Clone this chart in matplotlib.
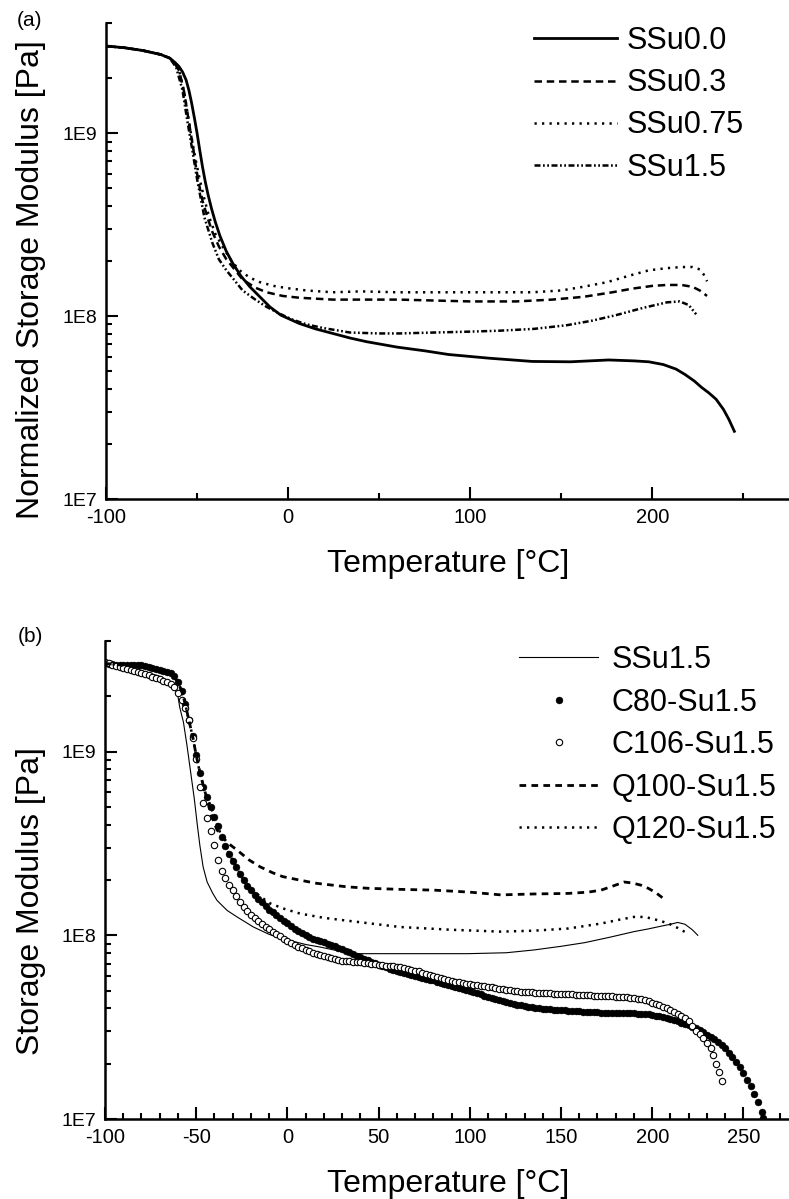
import matplotlib
matplotlib.use('Agg')
import matplotlib.pyplot as plt
from matplotlib.ticker import FixedLocator, FixedFormatter, LogLocator, NullFormatter
from matplotlib import font_manager
import numpy as np

plt.rcParams['font.family'] = ['Liberation Sans', 'DejaVu Sans']

# ---------------- data : panel (a) (temperature in degC, log10 of modulus in Pa)
a_labels = ['SSu0.0', 'SSu0.3', 'SSu0.75', 'SSu1.5']

ssu00_T = [-100, -90, -80, -70, -65, -62, -60, -58, -56, -54.5, -53, -51.5, -50, -48.5, -47, -45.5,
           -44, -42, -40, -37.5, -34, -30.5, -26, -21, -15, -10, -4, 6, 15, 24.5, 34, 43, 60, 75, 88,
           110, 134, 155, 176, 190, 198, 206, 213, 218, 223, 227, 231, 235, 239, 242, 245]
ssu00_logE = [9.476, 9.467, 9.452, 9.43, 9.41, 9.385, 9.365, 9.335, 9.29, 9.235, 9.165, 9.085, 9.00,
              8.905, 8.815, 8.735, 8.665, 8.585, 8.515, 8.44, 8.355, 8.29, 8.22, 8.16, 8.10, 8.05,
              8.005, 7.96, 7.93, 7.905, 7.88, 7.86, 7.83, 7.81, 7.79, 7.77, 7.752, 7.75, 7.76, 7.755,
              7.75, 7.735, 7.71, 7.68, 7.645, 7.61, 7.58, 7.545, 7.49, 7.435, 7.37]

ssu03_T = [-100, -90, -80, -70, -65, -62, -59.8, -57, -54.3, -52, -50.4, -48.5, -47, -44, -41.6, -38,
           -33.9, -29, -25, -18, -11.8, -3, 6.3, 24.5, 40, 61, 80, 100, 125, 145, 162, 178, 189, 200,
           208, 216, 222, 226, 230]
ssu03_logE = [9.476, 9.467, 9.452, 9.43, 9.41, 9.38, 9.34, 9.22, 9.05, 8.91, 8.80, 8.70, 8.63, 8.53,
              8.46, 8.38, 8.31, 8.25, 8.20, 8.155, 8.13, 8.11, 8.10, 8.09, 8.09, 8.09, 8.085, 8.08,
              8.08, 8.09, 8.105, 8.13, 8.15, 8.165, 8.17, 8.17, 8.16, 8.14, 8.11]

ssu075_T = [-100, -90, -80, -70, -65, -62, -59.8, -57, -54.3, -51.5, -48.8, -46, -43.3, -40, -36, -31,
            -26.7, -21, -15.7, -8, -0.8, 10, 24.5, 40, 60, 79, 100, 120, 134, 150, 162, 175, 187, 198,
            208, 216, 222, 226, 228, 230]
ssu075_logE = [9.476, 9.467, 9.452, 9.43, 9.41, 9.38, 9.34, 9.22, 9.05, 8.89, 8.76, 8.64, 8.54, 8.45,
               8.38, 8.30, 8.25, 8.21, 8.186, 8.165, 8.153, 8.14, 8.13, 8.135, 8.13, 8.13, 8.13, 8.13,
               8.13, 8.14, 8.16, 8.185, 8.22, 8.25, 8.262, 8.268, 8.268, 8.255, 8.23, 8.19]

ssu15a_T = [-100, -90, -80, -70, -65, -61.5, -58, -55.4, -52.6, -49.9, -46, -41.6, -38, -33.9, -29, -25,
            -18, -11.8, -4, 2.5, 10, 19, 34, 50, 61, 80, 100, 116, 135, 153, 167, 180, 195, 208, 215,
            220, 224]
ssu15a_logE = [9.476, 9.467, 9.452, 9.43, 9.41, 9.36, 9.235, 9.07, 8.907, 8.743, 8.54, 8.40, 8.31,
               8.25, 8.19, 8.14, 8.09, 8.05, 8.01, 7.98, 7.955, 7.935, 7.91, 7.905, 7.905, 7.91, 7.915,
               7.92, 7.93, 7.95, 7.975, 8.005, 8.045, 8.075, 8.08, 8.06, 8.01]

# ---------------- data : panel (b)
b_labels = ['SSu1.5', 'C80-Su1.5', 'C106-Su1.5', 'Q100-Su1.5', 'Q120-Su1.5']

ssu15b_T = [-100, -90, -80, -70, -65, -62, -60, -59, -57, -55, -53, -51, -49.5, -48, -46.2, -44, -41,
            -38.6, -33, -27.6, -18.6, -10, 0, 10, 18, 35, 62, 99, 120, 135, 150, 163, 177, 190, 198,
            205, 210, 214, 218, 222, 225]
ssu15b_logE = [9.48, 9.46, 9.44, 9.41, 9.38, 9.35, 9.30, 9.24, 9.16, 9.03, 8.885, 8.74, 8.61, 8.49,
               8.372, 8.29, 8.23, 8.19, 8.135, 8.10, 8.045, 8.005, 7.975, 7.95, 7.936, 7.90, 7.90,
               7.90, 7.905, 7.92, 7.94, 7.96, 7.99, 8.02, 8.035, 8.05, 8.06, 8.07, 8.06, 8.03, 8.00]

c80_T = [-100, -98, -96, -94, -92, -90, -88, -86, -84, -82, -80, -78, -76, -74, -72, -70, -68, -66,
         -64, -62, -60, -58, -56, -54, -52, -50, -48, -46, -44, -42, -40, -38, -36, -34, -32, -30,
         -28, -26, -24, -22, -20, -18, -16, -14, -12, -10, -8, -6, -4, -2, 0, 2, 4, 6, 8, 10, 12,
         14, 16, 18, 20, 22, 24, 26, 28, 30, 32, 34, 36, 38, 40, 42, 44, 46, 48, 50, 52, 54, 56, 58,
         60, 62, 64, 66, 68, 70, 72, 74, 76, 78, 80, 82, 84, 86, 88, 90, 92, 94, 96, 98, 100, 102,
         104, 106, 108, 110, 112, 114, 116, 118, 120, 122, 124, 126, 128, 130, 132, 134, 136, 138,
         140, 142, 144, 146, 148, 150, 152, 154, 156, 158, 160, 162, 164, 166, 168, 170, 172, 174,
         176, 178, 180, 182, 184, 186, 188, 190, 192, 194, 196, 198, 200, 202, 204, 206, 208, 210,
         212, 214, 216, 218, 220, 222, 224, 226, 228, 230, 232, 234, 236, 238, 240, 242, 244, 246,
         248, 250, 252, 254, 256, 258, 260, 261]
c80_logE = [9.480, 9.478, 9.476, 9.474, 9.472, 9.471, 9.474, 9.472, 9.470, 9.472, 9.470, 9.465, 9.461,
            9.456, 9.451, 9.446, 9.440, 9.434, 9.426, 9.412, 9.380, 9.330, 9.260, 9.170, 9.085,
            8.980, 8.885, 8.810, 8.755, 8.700, 8.645, 8.595, 8.535, 8.485, 8.445, 8.405, 8.370,
            8.335, 8.300, 8.270, 8.245, 8.220, 8.200, 8.180, 8.160, 8.140, 8.125, 8.110, 8.095,
            8.080, 8.065, 8.050, 8.036, 8.022, 8.010, 7.999, 7.990, 7.982, 7.975, 7.968, 7.962,
            7.955, 7.948, 7.940, 7.932, 7.925, 7.917, 7.908, 7.899, 7.890, 7.881, 7.872, 7.864,
            7.856, 7.848, 7.840, 7.833, 7.826, 7.819, 7.812, 7.806, 7.800, 7.794, 7.789, 7.784,
            7.779, 7.774, 7.769, 7.764, 7.759, 7.754, 7.748, 7.742, 7.736, 7.730, 7.724, 7.718,
            7.712, 7.706, 7.700, 7.695, 7.690, 7.684, 7.678, 7.672, 7.666, 7.660, 7.654, 7.648,
            7.643, 7.638, 7.633, 7.628, 7.623, 7.619, 7.615, 7.612, 7.609, 7.606, 7.603, 7.601,
            7.600, 7.598, 7.596, 7.594, 7.592, 7.591, 7.590, 7.588, 7.587, 7.586, 7.585, 7.583,
            7.582, 7.581, 7.580, 7.579, 7.578, 7.578, 7.577, 7.577, 7.576, 7.576, 7.575, 7.575,
            7.575, 7.574, 7.573, 7.572, 7.570, 7.567, 7.563, 7.558, 7.553, 7.548, 7.543, 7.537,
            7.531, 7.524, 7.517, 7.510, 7.502, 7.494, 7.484, 7.472, 7.459, 7.446, 7.433, 7.420,
            7.404, 7.385, 7.362, 7.337, 7.311, 7.282, 7.250, 7.215, 7.178, 7.136, 7.090, 7.040,
            7.007]

c106_T = [-100, -98, -96, -94, -92, -90, -88, -86, -84, -82, -80, -78, -76, -74, -72, -70, -68, -66,
          -64, -62, -60, -58, -56, -54, -52, -50, -48, -46, -44, -42, -40, -38, -36, -34, -32, -30,
          -28, -26, -24, -22, -20, -18, -16, -14, -12, -10, -8, -6, -4, -2, 0, 2, 4, 6, 8, 10, 12,
          14, 16, 18, 20, 22, 24, 26, 28, 30, 32, 34, 36, 38, 40, 42, 44, 46, 48, 50, 52, 54, 56, 58,
          60, 62, 64, 66, 68, 70, 72, 74, 76, 78, 80, 82, 84, 86, 88, 90, 92, 94, 96, 98, 100, 102,
          104, 106, 108, 110, 112, 114, 116, 118, 120, 122, 124, 126, 128, 130, 132, 134, 136, 138,
          140, 142, 144, 146, 148, 150, 152, 154, 156, 158, 160, 162, 164, 166, 168, 170, 172, 174,
          176, 178, 180, 182, 184, 186, 188, 190, 192, 194, 196, 198, 200, 202, 204, 206, 208, 210,
          212, 214, 216, 218, 220, 222, 224, 226, 228, 230, 232, 233.5, 235, 236.5, 238]
c106_logE = [9.486, 9.480, 9.474, 9.468, 9.463, 9.457, 9.452, 9.446, 9.440, 9.434, 9.428, 9.421,
             9.415, 9.408, 9.401, 9.393, 9.385, 9.377, 9.367, 9.350, 9.320, 9.280, 9.235, 9.170,
             9.075, 8.960, 8.810, 8.720, 8.640, 8.570, 8.490, 8.410, 8.350, 8.310, 8.275, 8.245,
             8.213, 8.183, 8.153, 8.130, 8.112, 8.095, 8.078, 8.062, 8.047, 8.033, 8.020, 8.007,
             7.994, 7.982, 7.970, 7.959, 7.948, 7.938, 7.929, 7.920, 7.912, 7.905, 7.898, 7.892,
             7.887, 7.882, 7.877, 7.872, 7.867, 7.862, 7.860, 7.858, 7.856, 7.854, 7.852, 7.850,
             7.848, 7.846, 7.843, 7.840, 7.837, 7.835, 7.833, 7.831, 7.829, 7.826, 7.822, 7.818,
             7.813, 7.808, 7.803, 7.797, 7.791, 7.785, 7.779, 7.773, 7.767, 7.762, 7.757, 7.752,
             7.748, 7.744, 7.740, 7.737, 7.734, 7.731, 7.728, 7.725, 7.722, 7.719, 7.716, 7.713,
             7.710, 7.707, 7.704, 7.701, 7.698, 7.696, 7.694, 7.692, 7.690, 7.689, 7.688, 7.687,
             7.686, 7.685, 7.684, 7.683, 7.682, 7.681, 7.680, 7.679, 7.678, 7.677, 7.676, 7.675,
             7.674, 7.673, 7.672, 7.671, 7.670, 7.669, 7.668, 7.667, 7.666, 7.665, 7.664, 7.663,
             7.661, 7.658, 7.655, 7.651, 7.646, 7.640, 7.634, 7.627, 7.620, 7.612, 7.603, 7.594,
             7.584, 7.573, 7.562, 7.550, 7.532, 7.505, 7.480, 7.460, 7.440, 7.416, 7.385, 7.350,
             7.300, 7.255, 7.205]

q100_T = [-100, -90, -80, -70, -64, -60, -58, -56, -54, -52, -50, -48, -46, -44, -42, -38.6, -33,
          -27.6, -21, -15, -8, -2.4, 7, 16, 32.5, 44, 62, 80, 100, 117, 135, 154, 165, 172, 179,
          184.6, 189, 193.8, 198, 202, 206.6]
q100_logE = [9.48, 9.47, 9.47, 9.445, 9.425, 9.38, 9.33, 9.26, 9.17, 9.085, 8.98, 8.89, 8.81, 8.74,
             8.66, 8.574, 8.505, 8.464, 8.41, 8.373, 8.34, 8.319, 8.30, 8.283, 8.264, 8.256, 8.25,
             8.246, 8.235, 8.22, 8.225, 8.228, 8.235, 8.246, 8.27, 8.29, 8.285, 8.273, 8.255, 8.232,
             8.197]

q120_T = [-100, -90, -80, -70, -64, -60, -58, -56, -54, -52, -50, -48, -46, -44, -42, -40, -36, -32,
          -28, -24, -18, -14, -9.3, -2, 7, 20, 32.5, 45, 62, 90, 117, 135, 154, 172, 182, 190, 196,
          200, 204, 209, 214, 218, 219.5]
q120_logE = [9.48, 9.47, 9.47, 9.445, 9.425, 9.38, 9.33, 9.26, 9.17, 9.085, 8.98, 8.885, 8.81, 8.755,
             8.70, 8.645, 8.535, 8.445, 8.37, 8.30, 8.235, 8.205, 8.173, 8.145, 8.118, 8.095, 8.08,
             8.065, 8.045, 8.03, 8.02, 8.025, 8.037, 8.064, 8.085, 8.10, 8.10, 8.09, 8.08, 8.064,
             8.04, 8.018, 8.005]

# ---------------- axes ticks / labels
ytick_values = [1e7, 1e8, 1e9]
ytick_labels = ['1E7', '1E8', '1E9']
a_xticks = [-100, 0, 100, 200]
a_xtick_labels = ['-100', '0', '100', '200']
a_xminor = [-50, 50, 150, 250]
b_xticks = [-100, -50, 0, 50, 100, 150, 200, 250]
b_xtick_labels = ['-100', '-50', '0', '50', '100', '150', '200', '250']
b_xminor = [-90, -80, -70, -60, -40, -30, -20, -10, 10, 20, 30, 40, 60, 70, 80, 90, 110, 120, 130,
            140, 160, 170, 180, 190, 210, 220, 230, 240, 260, 270]


def E(v):
    return 10.0 ** np.asarray(v)


# narrow face for x tick labels if available
_names = {f.name for f in font_manager.fontManager.ttflist}
xtick_family = ['Liberation Sans Narrow', 'Liberation Sans'] if 'Liberation Sans Narrow' in _names \
    else ['Liberation Sans']
xtick_size = 16 if 'Liberation Sans Narrow' in _names else 14.5

W, H = 789, 1199
fig = plt.figure(figsize=(W / 100, H / 100), dpi=100)


def px_axes(left, top, right, bottom):
    return fig.add_axes([left / W, 1 - bottom / H, (right - left) / W, (bottom - top) / H])


axA = px_axes(106, 23, 789, 499)
axB = px_axes(105, 641, 789, 1119)

# panel (a)
axA.plot(ssu00_T, E(ssu00_logE), color='black', lw=2.0, ls='-', label=a_labels[0])
axA.plot(ssu03_T, E(ssu03_logE), color='black', lw=1.8, ls=(0, (3.0, 1.9)), label=a_labels[1])
axA.plot(ssu075_T, E(ssu075_logE), color='black', lw=1.8, ls=(0, (0.9, 2.1)), label=a_labels[2])
axA.plot(ssu15a_T, E(ssu15a_logE), color='black', lw=1.8,
         ls=(0, (2.4, 1.0, 0.7, 1.0, 0.7, 1.0)), label=a_labels[3])

# panel (b)
axB.plot(ssu15b_T, E(ssu15b_logE), color='black', lw=0.8, ls='-', label=b_labels[0])
axB.plot(c80_T, E(c80_logE), ls='none', marker='o', ms=5.0, mfc='black', mec='black', mew=0.3,
         label=b_labels[1])
axB.plot(c106_T, E(c106_logE), ls='none', marker='o', ms=4.6, mfc='white', mec='black', mew=0.8,
         label=b_labels[2])
axB.plot(q100_T, E(q100_logE), color='black', lw=2.0, ls=(0, (2.4, 1.9)), label=b_labels[3])
axB.plot(q120_T, E(q120_logE), color='black', lw=1.8, ls=(0, (0.9, 2.1)), label=b_labels[4])

for ax in (axA, axB):
    ax.set_yscale('log')
    ax.set_ylim(1e7, 4e9)
    ax.set_xlim(-100, 275)
    for s in ('top', 'right'):
        ax.spines[s].set_visible(False)
    for s in ('left', 'bottom'):
        ax.spines[s].set_linewidth(1.8)
    ax.yaxis.set_major_locator(FixedLocator(ytick_values))
    ax.yaxis.set_major_formatter(FixedFormatter(ytick_labels))
    ax.yaxis.set_minor_locator(LogLocator(base=10, subs=[2, 3, 4, 5, 6, 7, 8, 9]))
    ax.yaxis.set_minor_formatter(NullFormatter())
    ax.tick_params(which='both', direction='in', top=False, right=False, width=1.5)
    ax.tick_params(which='major', length=8.5)
    ax.tick_params(which='minor', length=4)
    ax.tick_params(axis='y', pad=6.5, labelsize=14)
    ax.tick_params(axis='x', pad=6.5)

axA.xaxis.set_major_locator(FixedLocator(a_xticks))
axA.xaxis.set_major_formatter(FixedFormatter(a_xtick_labels))
axA.xaxis.set_minor_locator(FixedLocator(a_xminor))
axB.xaxis.set_major_locator(FixedLocator(b_xticks))
axB.xaxis.set_major_formatter(FixedFormatter(b_xtick_labels))
axB.xaxis.set_minor_locator(FixedLocator(b_xminor))
for ax in (axA, axB):
    for lab in ax.get_xticklabels():
        lab.set_family(xtick_family)
        lab.set_fontsize(xtick_size)

axA.legend(loc='upper left', bbox_to_anchor=(534 / W, 1 - 26 / H), bbox_transform=fig.transFigure,
           frameon=False, fontsize=22, handlelength=2.7, handletextpad=0.33, labelspacing=0.40,
           borderpad=0, borderaxespad=0)
axB.legend(loc='upper left', bbox_to_anchor=(519 / W, 1 - 645 / H), bbox_transform=fig.transFigure,
           frameon=False, fontsize=22, handlelength=2.6, handletextpad=0.42, labelspacing=0.41,
           borderpad=0, borderaxespad=0, numpoints=1)

# texts
fig.text(30 / W, 1 - 20 / H, '(a)', ha='center', va='center', fontsize=15)
fig.text(30 / W, 1 - 636 / H, '(b)', ha='center', va='center', fontsize=15)
fig.text(31 / W, 1 - 280 / H, 'Normalized Storage Modulus [Pa]', rotation=90, ha='center',
         va='center', fontsize=23)
fig.text(31 / W, 1 - 901 / H, 'Storage Modulus [Pa]', rotation=90, ha='center', va='center',
         fontsize=23)
fig.text(448 / W, 1 - 564 / H, 'Temperature [°C]', ha='center', va='center', fontsize=23)
fig.text(448 / W, 1 - 1184 / H, 'Temperature [°C]', ha='center', va='center', fontsize=23)

fig.savefig('out.png', dpi=100)
